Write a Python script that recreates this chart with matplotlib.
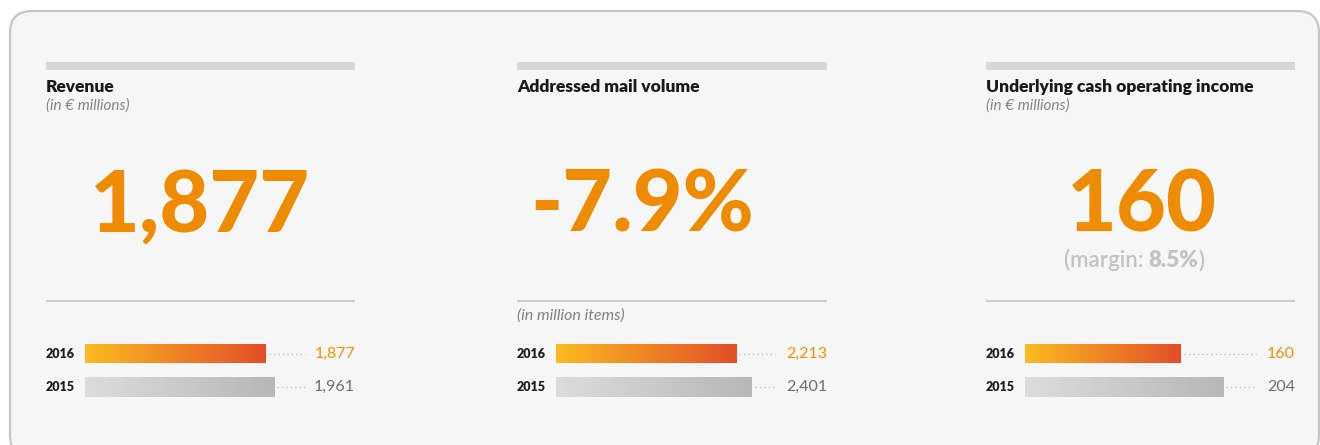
import numpy as np
import matplotlib
matplotlib.use("Agg")
from matplotlib import pyplot as plt
from matplotlib.patches import FancyBboxPatch, Rectangle
from matplotlib.colors import LinearSegmentedColormap

plt.rcParams["font.family"] = ["Lato", "DejaVu Sans"]

# ---- data ----
titles = ["Revenue", "Addressed mail volume", "Underlying cash operating income"]
units = ["(in \u20ac millions)", "", "(in \u20ac millions)"]
headlines = ["1,877", "-7.9%", "160"]
bar_notes = ["", "(in million items)", ""]
years = ["2016", "2015"]
values_2016 = [1877, 2213, 160]
values_2015 = [1961, 2401, 204]
margin_label = "(margin: "
margin_value = "8.5%"

# ---- layout (pixels) ----
W, H = 1320, 445
lefts = [46, 517, 986]
rights = [355, 827, 1295]
head_x = [200, 642, 1142]
axis_max = [2800, 3330, 278]     # bar scale per panel
dot_end = [305, 775, 1256]
bar_y = [353.5, 387]
bar_h = 19.5

ORANGE = "#ef8b00"
cmaps = [LinearSegmentedColormap.from_list("o", ["#fbbb20", "#e34e27"]),
         LinearSegmentedColormap.from_list("g", ["#dcdcdc", "#b7b7b7"])]
val_colors = ["#f39200", "#6e6e6e"]

fig = plt.figure(figsize=(W / 100, H / 100), dpi=100)
ax = fig.add_axes([0, 0, 1, 1])
ax.set_xlim(0, W)
ax.set_ylim(H, 0)
ax.axis("off")

card = FancyBboxPatch((10, 11), 1309, 446, boxstyle="round,pad=0,rounding_size=22",
                      fc="#f6f6f6", ec="#c6c6c6", lw=1.6)
ax.add_patch(card)

grad = np.linspace(0, 1, 256).reshape(1, -1)

for i in range(3):
    l, r = lefts[i], rights[i]
    ax.add_patch(Rectangle((l, 62), r - l, 8, fc="#d6d6d6", ec="none"))
    ax.text(l, 92, titles[i], fontsize=12.5, fontweight="heavy", color="#1a1a1a", va="baseline")
    if units[i]:
        ax.text(l, 110, units[i], fontsize=11, style="italic", color="#858585", va="baseline")
    ax.text(head_x[i], 232, headlines[i], fontsize=62, fontweight="black", color=ORANGE,
            ha="center", va="baseline")
    ax.hlines(301, l, r, color="#c8c8c8", lw=1.3)
    if bar_notes[i]:
        ax.text(l, 320, bar_notes[i], fontsize=11.5, style="italic", color="#808080", va="baseline")

    # bar axes: y in figure pixels, x in value units
    x0 = l + 39
    bax = fig.add_axes([x0 / W, (H - 405) / H, (r - x0) / W, 70 / H])
    bax.axis("off")
    vals = [values_2016[i], values_2015[i]]
    for j, v in enumerate(vals):
        y = bar_y[j]
        b = bax.barh(y, v, height=bar_h, color="none", ec="none")[0]
        im = bax.imshow(grad, cmap=cmaps[j], aspect="auto",
                        extent=(0, v, y + bar_h / 2, y - bar_h / 2))
        im.set_clip_path(b)
        dend = (dot_end[i] - x0) / (r - x0) * axis_max[i]
        gap = axis_max[i] * 0.012
        bax.plot([v + gap, dend], [y, y], color="#bdbdbd", lw=1.0, ls=(0, (1, 2.2)))
        ax.text(l, y, years[j], fontsize=9, fontweight="heavy", color="#1e1e1e", va="center")
        ax.text(r, y, f"{v:,}", fontsize=11.5, color=val_colors[j], ha="right", va="center")
    bax.set_xlim(0, axis_max[i])
    bax.set_ylim(405, 335)

# margin note under 160, mixed weights, centered
renderer = fig.canvas.get_renderer()
parts = [(margin_label, "semibold"), (margin_value, "heavy"), (")", "semibold")]
texts = [ax.text(0, 267, s, fontsize=16, fontweight=w, color="#c2c2c2", va="baseline")
         for s, w in parts]
widths = [t.get_window_extent(renderer).width for t in texts]
x = 1134 - sum(widths) / 2
for t, w in zip(texts, widths):
    t.set_x(x)
    x += w

fig.savefig("out.png", dpi=100)
